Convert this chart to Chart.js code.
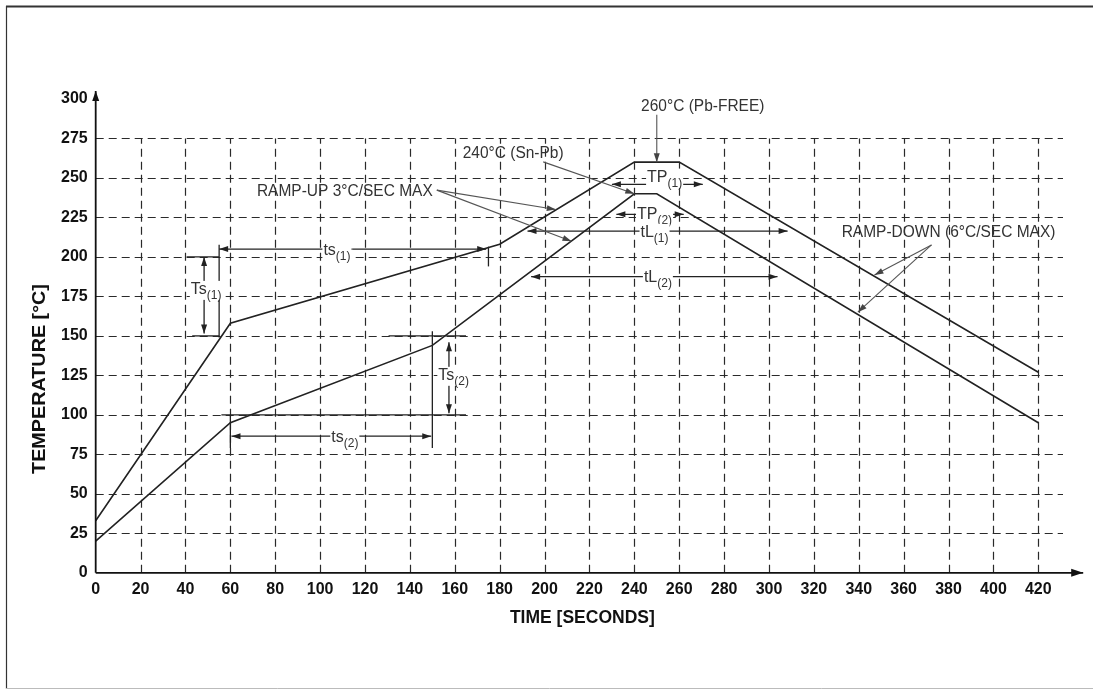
<!DOCTYPE html>
<html>
<head>
<meta charset="utf-8">
<script src="https://cdn.jsdelivr.net/npm/chart.js@4/dist/chart.umd.min.js"></script>
<style>
  html, body { margin: 0; padding: 0; background: #fff; }
  #wrap { width: 1093px; height: 690px; position: relative; }
</style>
</head>
<body>
<div id="wrap"><canvas id="c" width="1093" height="690"></canvas></div>
<script>
// Reflow soldering profiles: time (s) against temperature (°C)
const pbFreeTime = [0, 60, 180, 240, 260, 420];
const pbFreeTemp = [33, 158, 208, 260, 260, 127];
const snPbTime   = [0, 60, 150, 240, 250, 420];
const snPbTemp   = [20, 95, 144, 240, 240, 95];

const timeTicks = [0, 20, 40, 60, 80, 100, 120, 140, 160, 180, 200, 220, 240, 260, 280, 300, 320, 340, 360, 380, 400, 420];
const tempTicks = [0, 25, 50, 75, 100, 125, 150, 175, 200, 225, 250, 275, 300];

const xTitle = 'TIME [SECONDS]';
const yTitle = 'TEMPERATURE [°C]';

// Callout texts, anchored at (time, temperature)
const callouts = [
  { text: '260°C (Pb-FREE)', t: 270.5, T: 296 },
  { text: '240°C (Sn-Pb)', t: 186, T: 266 },
  { text: 'RAMP-UP 3°C/SEC MAX', t: 111, T: 242.2 },
  { text: 'RAMP-DOWN (6°C/SEC MAX)', t: 380, T: 216 }
];
// Leader arrows: from -> to, in (time, temperature)
const leaders = [
  [250, 290, 250, 260],
  [199.4, 260.2, 240, 240],
  [152, 242.3, 205, 230],
  [152, 242.3, 212, 210],
  [372.4, 207.6, 347, 188.5],
  [372.4, 207.6, 339.6, 165]
];
// Dimension labels: main text + subscript
const dimLabels = [
  { main: 'ts', sub: '(1)', t: 107.5, T: 205 },
  { main: 'Ts', sub: '(1)', t: 49.2, T: 180.4 },
  { main: 'ts', sub: '(2)', t: 111, T: 86.5 },
  { main: 'Ts', sub: '(2)', t: 159.5, T: 126 },
  { main: 'TP', sub: '(1)', t: 253.5, T: 251.5 },
  { main: 'TP', sub: '(2)', t: 249, T: 228 },
  { main: 'tL', sub: '(1)', t: 249, T: 216.5 },
  { main: 'tL', sub: '(2)', t: 250.5, T: 188 }
];
// Horizontal double arrows: [t1, t2, T]
const hSpans = [
  [55, 174, 205],
  [60.5, 149.5, 86.5],
  [230, 270.5, 246],
  [232, 262, 227],
  [192.4, 308.3, 216.4],
  [194, 303.8, 187.5]
];
// Vertical double arrows: [t, T1, T2]
const vSpans = [
  [48.3, 200, 151.5],
  [157.4, 146, 101]
];
// Plain reference lines: [t1, T1, t2, T2]
const refLines = [
  [55, 149, 55, 207.7],
  [175, 194, 175, 206.5],
  [40.5, 200, 55, 200],
  [43, 150, 55, 150],
  [60, 100, 60, 79],
  [150, 153, 150, 79],
  [56, 100, 165, 100],
  [130.5, 150, 165, 150]
];

const FONT = '"Liberation Sans", Arial, Helvetica, sans-serif';

function seg(ctx, x1, y1, x2, y2) {
  ctx.beginPath(); ctx.moveTo(x1, y1); ctx.lineTo(x2, y2); ctx.stroke();
}
function head(ctx, x, y, ang, len, half) {
  ctx.save();
  ctx.translate(x, y); ctx.rotate(ang);
  ctx.beginPath(); ctx.moveTo(0, 0); ctx.lineTo(-len, -half); ctx.lineTo(-len, half); ctx.closePath();
  ctx.fill();
  ctx.restore();
}
function arrow(ctx, x1, y1, x2, y2, len, half) {
  seg(ctx, x1, y1, x2, y2);
  head(ctx, x2, y2, Math.atan2(y2 - y1, x2 - x1), len, half);
}

const drawing = {
  id: 'profileDrawing',
  beforeDraw(chart) {
    const ctx = chart.ctx;
    ctx.save();
    ctx.fillStyle = '#fff';
    ctx.fillRect(0, 0, chart.width, chart.height);
    ctx.restore();
  },
  beforeDatasetsDraw(chart) {
    const ctx = chart.ctx, xs = chart.scales.x, ys = chart.scales.y;
    ctx.save();
    ctx.strokeStyle = '#2a2a2a';
    ctx.lineWidth = 1.2;
    ctx.setLineDash([8, 5]);
    const x0 = xs.getPixelForValue(0), x1 = xs.getPixelForValue(xs.max);
    tempTicks.filter(v => v > 0 && v < 300).forEach(v => {
      const y = Math.round(ys.getPixelForValue(v)) + 0.5;
      seg(ctx, x0, y, x1, y);
    });
    const yb = ys.getPixelForValue(0), yt = ys.getPixelForValue(275);
    timeTicks.filter(v => v > 0).forEach(v => {
      const x = Math.round(xs.getPixelForValue(v)) + 0.5;
      seg(ctx, x, yb, x, yt);
    });
    ctx.restore();
  },
  afterDatasetsDraw(chart) {
    const ctx = chart.ctx, xs = chart.scales.x, ys = chart.scales.y;
    const px = t => xs.getPixelForValue(t), py = T => ys.getPixelForValue(T);
    ctx.save();

    // axes with arrow tips
    ctx.strokeStyle = '#111'; ctx.fillStyle = '#111'; ctx.lineWidth = 1.8;
    arrow(ctx, px(0), py(0), px(0), py(305), 10, 3.5);
    arrow(ctx, px(0), py(0), px(440), py(0), 12, 4);

    // reference lines
    ctx.strokeStyle = '#222'; ctx.fillStyle = '#222'; ctx.lineWidth = 1.3;
    refLines.forEach(l => seg(ctx, px(l[0]), py(l[1]), px(l[2]), py(l[3])));

    // horizontal dimension arrows
    hSpans.forEach(s => {
      const a = px(s[0]), b = px(s[1]), y = py(s[2]), m = (a + b) / 2;
      arrow(ctx, m, y, a, y, 9, 3);
      arrow(ctx, m, y, b, y, 9, 3);
    });
    // vertical dimension arrows
    vSpans.forEach(s => {
      const x = px(s[0]), a = py(s[1]), b = py(s[2]), m = (a + b) / 2;
      arrow(ctx, x, m, x, a, 9, 3);
      arrow(ctx, x, m, x, b, 9, 3);
    });

    // leader arrows
    ctx.strokeStyle = '#555'; ctx.fillStyle = '#444'; ctx.lineWidth = 1.1;
    leaders.forEach(l => arrow(ctx, px(l[0]), py(l[1]), px(l[2]), py(l[3]), 9, 3));

    // dimension labels with subscripts
    dimLabels.forEach(d => {
      const size = 16, sub = 12;
      ctx.font = size + 'px ' + FONT;
      const w1 = ctx.measureText(d.main).width;
      ctx.font = sub + 'px ' + FONT;
      const w2 = ctx.measureText(d.sub).width;
      const w = w1 + w2, cx = px(d.t), cy = py(d.T), x0 = cx - w / 2;
      ctx.fillStyle = '#fff';
      ctx.fillRect(x0 - 1, cy - 7, w + 2, 19);
      ctx.fillStyle = '#333';
      ctx.textAlign = 'left'; ctx.textBaseline = 'alphabetic';
      ctx.font = size + 'px ' + FONT;
      ctx.fillText(d.main, x0, cy + 6);
      ctx.font = sub + 'px ' + FONT;
      ctx.fillText(d.sub, x0 + w1, cy + 11);
    });

    // callout texts, slightly tall letterforms
    ctx.fillStyle = '#333';
    ctx.textAlign = 'center'; ctx.textBaseline = 'middle';
    ctx.font = '15.5px ' + FONT;
    callouts.forEach(c => {
      ctx.save();
      ctx.translate(px(c.t), py(c.T) + 1);
      ctx.scale(1, 1.12);
      ctx.fillText(c.text, 0, 0);
      ctx.restore();
    });

    // axis titles
    ctx.fillStyle = '#111';
    ctx.font = 'bold 17.5px ' + FONT;
    ctx.fillText(xTitle, (xs.left + xs.right) / 2 + 3, 618);
    ctx.save();
    ctx.translate(40, 379);
    ctx.rotate(-Math.PI / 2);
    ctx.scale(1.13, 1);
    ctx.fillText(yTitle, 0, 0);
    ctx.restore();

    // outer frame
    ctx.strokeStyle = '#333'; ctx.lineWidth = 1.2;
    seg(ctx, 6.5, 6, 6.5, 689);
    ctx.lineWidth = 2;
    seg(ctx, 6, 6.5, 1093, 6.5);
    ctx.strokeStyle = '#bbb'; ctx.lineWidth = 1;
    seg(ctx, 6, 688.5, 1093, 688.5);

    ctx.restore();
  }
};

const toPoints = (xs, ys) => xs.map((x, i) => ({ x: x, y: ys[i] }));
const tickFont = { family: FONT, size: 16, weight: 'bold' };

new Chart(document.getElementById('c'), {
  type: 'scatter',
  data: {
    datasets: [
      { label: 'Pb-free', data: toPoints(pbFreeTime, pbFreeTemp), showLine: true,
        borderColor: '#222', borderWidth: 1.6, pointRadius: 0, tension: 0, fill: false },
      { label: 'Sn-Pb', data: toPoints(snPbTime, snPbTemp), showLine: true,
        borderColor: '#222', borderWidth: 1.6, pointRadius: 0, tension: 0, fill: false }
    ]
  },
  options: {
    responsive: false,
    animation: false,
    devicePixelRatio: 1,
    layout: { padding: { left: 53, right: 30, top: 99, bottom: 84 } },
    plugins: { legend: { display: false }, tooltip: { enabled: false } },
    scales: {
      x: {
        type: 'linear', min: 0, max: 431,
        afterBuildTicks: s => { s.ticks = timeTicks.map(v => ({ value: v })); },
        grid: { display: false, drawTicks: false },
        border: { display: false },
        ticks: { font: tickFont, color: '#111', padding: 7, maxRotation: 0, autoSkip: false }
      },
      y: {
        type: 'linear', min: 0, max: 300,
        afterBuildTicks: s => { s.ticks = tempTicks.map(v => ({ value: v })); },
        grid: { display: false, drawTicks: false },
        border: { display: false },
        ticks: { font: tickFont, color: '#111', padding: 8, autoSkip: false }
      }
    }
  },
  plugins: [drawing]
});
</script>
</body>
</html>
